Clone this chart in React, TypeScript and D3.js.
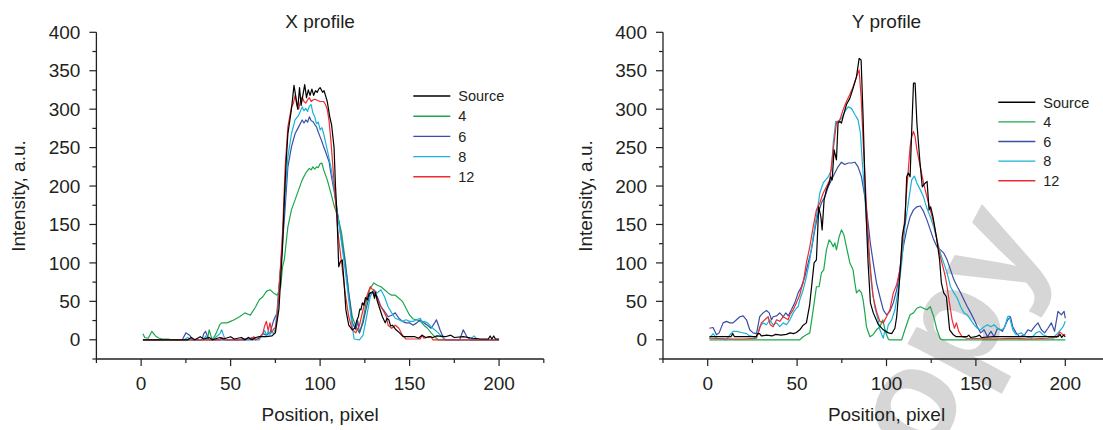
import React from "react";
import * as d3 from "d3";

type Pt = [number, number];

const seriesNames = ["Source", "4", "6", "8", "12"];
const seriesColors = ["#000000", "#1ba84c", "#3a4ea6", "#18b3d8", "#ee2b30"];

// X profile
const xSource: Pt[] = [[1,0],[26,0],[28,3],[30,0],[33,4],[35,1],[38,3],[40,0],[44,3],[46,1],[50,4],[52,1],[56,3],[58,0],[60,3],[62,0],[64,3],[66,4],[70,4],[73,5],[75,9],[77,40],[79,120],[80,182],[81,230],[82,268],[84,300],[85.4,331],[86.5,315],[87.5,300],[88.5,328],[89.4,305],[90.5,320],[91.4,332],[92.4,315],[93.4,325],[94.4,318],[95.4,326],[96.4,318],[97.4,324],[98.4,322],[99.2,326],[100,328],[101.4,322],[102.2,324],[103,318],[104,310],[105.4,290],[106.4,280],[107.8,250],[108.6,200],[109.4,165],[110.4,95],[111.4,102],[112.4,104],[113.4,74],[114.4,39],[116,19],[118,13],[119.4,15],[120.5,25],[121.4,30],[122.2,40],[122.8,39],[123.6,48],[124.4,45],[125.4,55],[126.4,52],[127.4,60],[128.4,61],[129.4,63],[130.4,54],[131,62],[132,50],[133.4,40],[134.8,30],[136.4,22],[137.4,28],[138.4,26],[139.4,18],[140.4,19],[142.4,13],[144.4,9],[146.4,4],[150,4],[153,4],[155,2],[157,6],[159,3],[161,4],[163,3],[165,5],[170,4],[173,6],[175,3],[180,4],[185,2],[190,1],[194,1],[195,5],[196,1],[197,5],[198,1],[200,1]];
const x4: Pt[] = [[1,8],[2,3],[4,2],[6,11],[8,5],[10,2],[12,1],[15,1],[17,0],[37,0],[38,13],[39,5],[40,0],[42,9],[44,20],[45,22],[48,22],[50,24],[52,26],[55,30],[58,35],[61,32],[64,43],[66,52],[68,56],[70,63],[72,65],[74,61],[76,58],[78,69],[79,95],[80,104],[82,147],[84,169],[86,182],[88,195],[90,208],[92,217],[94,223],[95,221],[96,225],[97,222],[98,225],[99,224],[100,229],[101,230],[102,221],[104,208],[106,191],[108,173],[110,160],[112,139],[114,104],[116,61],[118,30],[120,17],[122,9],[124,26],[126,52],[128,67],[130,74],[132,71],[134,69],[136,65],[138,61],[140,58],[142,58],[144,54],[146,50],[148,41],[150,32],[152,27],[154,26],[156,24],[158,19],[160,15],[162,9],[164,4],[166,0],[200,0]];
const x6: Pt[] = [[1,0],[23,0],[25,9],[27,6],[29,0],[34,0],[35,8],[36,11],[37,5],[38,0],[60,0],[62,3],[64,0],[66,2],[68,8],[70,6],[72,9],[74,25],[76,35],[78,95],[80,156],[82,225],[84,251],[86,268],[88,277],[90,286],[91,282],[92,286],[93,283],[94,290],[95,285],[96,284],[97,280],[98,277],[99,270],[100,264],[101,258],[102,251],[103,245],[104,238],[105,232],[106,217],[108,191],[110,160],[112,130],[114,100],[116,61],[118,22],[120,13],[121,25],[122,9],[124,22],[126,43],[128,61],[130,61],[132,56],[134,43],[136,37],[138,30],[140,32],[142,35],[144,28],[146,24],[148,22],[150,22],[152,19],[154,22],[156,26],[158,22],[160,19],[162,15],[164,22],[165,26],[167,13],[169,2],[170,0],[178,0],[180,13],[182,4],[184,0],[200,0]];
const x8: Pt[] = [[1,0],[24,0],[26,3],[28,0],[35,0],[36,5],[37,0],[40,0],[42,4],[44,8],[45,13],[46,6],[47,0],[55,0],[57,2],[60,0],[66,0],[68,8],[69,12],[70,6],[71,11],[72,7],[73,10],[74,8],[75,14],[76,40],[78,95],[80,173],[82,238],[84,268],[86,286],[88,292],[90,303],[91,298],[92,301],[93,297],[94,304],[95,306],[96,295],[97,290],[98,281],[99,283],[100,273],[101,276],[102,268],[104,247],[106,225],[108,195],[110,160],[112,126],[114,91],[116,52],[118,17],[119,1],[122,0],[124,6],[126,30],[128,56],[130,65],[132,61],[134,65],[136,56],[138,43],[140,35],[142,28],[144,26],[146,24],[148,26],[150,24],[152,24],[154,26],[156,28],[157,22],[158,24],[160,22],[162,17],[164,13],[166,9],[168,4],[170,0],[184,0],[186,5],[188,0],[200,0]];
const x12: Pt[] = [[1,0],[44,0],[45,3],[47,0],[58,0],[60,3],[61,0],[63,4],[64,0],[66,3],[68,8],[69,18],[70,24],[71,12],[72,22],[73,10],[74,14],[75,16],[76,30],[77,65],[78,100],[79,139],[80.5,225],[82,277],[84,303],[85,307],[86,318],[87,305],[88,300],[89,310],[90,316],[91,310],[92,308],[93,312],[94,315],[95,310],[96,312],[97,313],[98,312],[100,310],[102,310],[103,306],[104,300],[105,285],[106,260],[107,230],[108,199],[110,139],[112,100],[114,61],[116,30],[118,13],[120,9],[122,19],[124,39],[126,56],[128,69],[129,66],[130,65],[132,52],[134,43],[136,35],[137,30],[138,19],[140,15],[142,19],[144,15],[146,6],[148,1],[156,1],[157,6],[158,2],[162,4],[163,0],[200,0]];

// Y profile
const ySource: Pt[] = [[1,4],[13,4],[14,8],[15,4],[27,4],[28,8],[29,8],[30,5],[33,6],[36,5],[38,7],[41,6],[44,7],[46,9],[48,8],[49.6,9.5],[51.5,13],[53.4,19],[55.2,22],[57,45],[59.5,100],[60.8,104],[62.1,173],[63.3,160],[64,143],[65.1,182],[66.4,195],[67.9,204],[68.8,212],[69.6,208],[70.7,247],[72,234],[72.9,282],[73.9,284],[74.8,282],[75.7,290],[77.6,306],[79.5,314],[81.3,327],[83.2,342],[84.7,366],[85.8,364],[86.9,290],[88.2,186],[89.7,100],[91,48],[92.6,35],[95.4,20],[98.2,13],[101,9],[102.9,8],[104.7,15],[105.7,30],[106.6,56],[107.9,99],[108.8,134],[109.4,143],[110.3,152],[111.3,212],[112.2,217],[113.2,212],[114.1,273],[115.1,334],[116,334],[117,282],[118.6,234],[120,199],[121.3,203],[122.7,206],[123.8,169],[124.7,173],[126,160],[127.9,134],[129.7,104],[130.7,74],[132,61],[133.5,56],[134.4,35],[135.3,13],[137.2,7],[139,4],[145,4],[146,6],[147,3],[150,4],[152,6],[153,3],[160,4],[170,4],[180,4],[190,4],[196,4],[197,7],[198,3],[199,6],[200,4]];
const y4: Pt[] = [[1,0],[51.5,0],[53.4,4],[55.2,6.5],[57.1,9],[59,39],[60.8,69],[62.3,69],[63.6,87],[64.9,91],[66.4,117],[67.9,130],[69.2,126],[70.2,121],[71.1,126],[72,117],[73.5,134],[74.8,143],[76.1,137],[77.6,121],[79.5,100],[81.3,91],[82.3,74],[83.2,61],[84.7,65],[86,61],[86.9,52],[87.9,35],[88.8,17],[90.7,4],[92.5,6.5],[94.4,13],[96.3,17],[98,26],[99.3,11],[101,1],[101.5,0],[108.5,0],[110.3,13],[112.2,26],[113.2,32.5],[115.1,35],[117,41],[118.9,43],[120.7,41],[122.6,39],[124.5,43],[126.4,30],[128.2,13],[130.1,1],[131,0],[200,0]];
const y6: Pt[] = [[1,15],[3,16],[4.9,6.5],[6.4,9],[8.6,22],[10.5,24],[12.4,22],[14.2,22],[16.1,26],[18,30],[19.8,31],[21.7,26],[23.5,13],[25.4,9],[27.3,8],[29.1,30],[31,35],[32.9,38],[34.4,35],[35.7,26],[36.6,30],[38.5,31],[40.3,35],[42.2,30],[43.7,35],[45,31],[46.8,39],[48.7,48],[50.6,61],[52.4,69],[54.3,82],[56.2,100],[58,117],[59.9,143],[61.8,165],[63.6,178],[65.5,186],[67.4,199],[69.2,208],[71.1,217],[72.9,225],[74.8,231],[76.7,228],[78.6,230],[80.4,230],[82.3,231],[84.1,225],[86,212],[87.9,186],[89.7,152],[91,125],[92.6,100],[94.4,74],[96.3,56],[98.2,39],[100,32.5],[101.9,37],[103.8,48],[105.7,65],[107.5,91],[109.4,121],[111.3,143],[113.2,160],[115.1,169],[117,173],[118.9,174],[120.7,167],[122.6,156],[124.5,143],[126.4,130],[128.2,121],[130.1,117],[132,113],[133.9,104],[135.8,91],[137.7,78],[139.6,69],[141.5,61],[143.3,52],[145.2,43],[147.1,35],[149,26],[150.8,17],[152.7,9],[154.6,13],[156.5,4],[158.4,11],[160.2,4],[162.1,15],[164.9,11],[167.8,26],[169.3,30],[170.6,17],[172.5,9],[174.4,4],[177.2,6.5],[179.1,13],[180.9,11],[182.8,17],[184.7,22],[186.6,13],[188.4,9],[190.3,15],[192.2,22],[194,11],[195.9,37],[197.8,32.5],[199.3,37],[200,28]];
const y8: Pt[] = [[1,2],[3,8],[4.9,2],[10.5,0],[12.4,6.5],[14.2,11],[16,11],[18.9,9.5],[21.7,8],[23.5,5],[25.4,4],[27.3,2],[29.1,17],[31,22],[32.9,19.5],[34.7,26],[36.6,19.5],[38.5,22],[40.3,17],[42.2,22],[44,19.5],[46,26],[47.8,35],[49.6,41],[50.6,43],[51.5,52],[53.4,65],[55.2,82],[57.1,104],[59,134],[60.8,160],[62.7,191],[64.6,204],[66,208],[67.4,212],[69.2,221],[70.2,256],[71.6,284],[72.9,284],[74.8,288],[76.7,297],[78.6,303],[80.4,301],[82.3,293],[84.1,286],[85.4,269],[86.5,230],[87.9,186],[89.7,121],[91.5,74],[93.4,43],[95.3,26],[96.3,13],[98.2,2],[99.1,13],[100,9],[101,19.5],[102.9,26],[104.7,39],[106.6,65],[108.5,100],[110.3,147],[112.2,178],[114.1,208],[115.6,213],[117,204],[118.9,195],[120.7,186],[122.6,171],[124.5,160],[126.4,147],[128.2,130],[130.1,113],[132,100],[133.9,87],[135.8,69],[137.7,61],[139.6,54],[141.5,43],[143.3,35],[145.2,32.5],[147.1,26],[149,19.5],[150.8,15],[152.7,13],[154.6,17],[156.5,19.5],[158.4,17],[160.2,19.5],[162.1,15],[164,13],[165.9,15],[167.8,30],[168.7,31],[170.6,13],[172.5,6.5],[175.3,9],[178.1,4],[180.9,2],[183.7,9],[185.6,11],[187.5,6.5],[190.3,4],[193.1,2],[195.9,9],[198.8,17],[200,24]];
const y12: Pt[] = [[1,2],[15,1],[20,1],[27,2],[28,6.5],[30,22],[32.9,28],[33.8,30],[35,19.5],[36.6,17],[38.5,26],[40.3,24],[42.2,30],[43.7,28],[45,26],[46,32.5],[47.8,39],[49.6,48],[51.5,58.5],[52.4,67],[53.4,74],[55.2,100],[57.1,121],[59,147],[60.8,169],[62.7,178],[64.6,191],[66.4,199],[68.3,208],[70.2,247],[72,282],[73.9,286],[75.7,299],[77.6,310],[79.5,319],[81.3,329],[83.2,342],[84.7,351],[85.8,316],[86.9,260],[88.8,173],[90.7,100],[92.5,56],[94.4,37],[96.3,24],[98.2,22],[100,30],[101.9,39],[103.8,61],[105.7,72],[107.5,91],[109.4,139],[110.3,160],[111.3,195],[112.2,221],[113.2,251],[114.1,264],[115.1,271],[116,264],[117,247],[118.9,225],[120.7,204],[122.6,186],[124.5,169],[126.4,152],[128.2,130],[130.1,108],[131,100],[132,91],[132.9,82],[133.9,69],[135.2,48],[136.7,26],[138,15],[139.1,22],[140.4,11],[142.3,4],[145,2],[160,1],[170,2],[180,1],[190,2],[195,3],[197,10],[199,6],[200,7]];

const xTickValues = [0, 50, 100, 150, 200];
const xMinorValues = [-25, 25, 75, 125, 175, 225];
const yTickValues = [0, 50, 100, 150, 200, 250, 300, 350, 400];
const yMinorValues = [-25, 25, 75, 125, 175, 225, 275, 325, 375];

const FONT = "'Liberation Sans', Arial, Helvetica, sans-serif";
const INK = "#231f20";

type PanelProps = {
  x0: number;
  x1: number;
  title: string;
  series: Pt[][];
  legendX: number;
  legendY: number;
  legendStep: number;
};

function Panel({ x0, x1, title, series, legendX, legendY, legendStep }: PanelProps) {
  const x = d3.scaleLinear().domain([-25, 225]).range([x0, x1]);
  const y = d3.scaleLinear().domain([-25, 400]).range([359, 32.3]);
  const line = d3
    .line<Pt>()
    .x((d) => x(d[0]))
    .y((d) => y(d[1]));
  const bottom = y(-25);
  const cx = (x0 + x1) / 2;
  const order = [1, 2, 3, 4, 0];

  return (
    <g fontFamily={FONT} fill={INK}>
      {order.map((i) => (
        <path
          key={i}
          d={line(series[i]) || ""}
          fill="none"
          stroke={seriesColors[i]}
          strokeWidth={1.2}
          strokeLinejoin="round"
        />
      ))}
      {/* axes */}
      <line x1={x0} x2={x1} y1={bottom} y2={bottom} stroke={INK} strokeWidth={1.3} />
      <line x1={x0} x2={x0} y1={bottom} y2={y(400)} stroke={INK} strokeWidth={1.3} />
      {xTickValues.map((t) => (
        <g key={"xt" + t}>
          <line x1={x(t)} x2={x(t)} y1={bottom} y2={bottom + 7} stroke={INK} strokeWidth={1.2} />
          <text x={x(t)} y={390} textAnchor="middle" fontSize={19}>
            {t}
          </text>
        </g>
      ))}
      {xMinorValues.map((t) => (
        <line key={"xm" + t} x1={x(t)} x2={x(t)} y1={bottom} y2={bottom + 4} stroke={INK} strokeWidth={1.2} />
      ))}
      {yTickValues.map((t) => (
        <g key={"yt" + t}>
          <line x1={x0 - 7} x2={x0} y1={y(t)} y2={y(t)} stroke={INK} strokeWidth={1.2} />
          <text x={x0 - 16} y={y(t)} dy="0.35em" textAnchor="end" fontSize={19}>
            {t}
          </text>
        </g>
      ))}
      {yMinorValues.map((t) => (
        <line key={"ym" + t} x1={x0 - 4} x2={x0} y1={y(t)} y2={y(t)} stroke={INK} strokeWidth={1.2} />
      ))}
      <text x={cx} y={28} textAnchor="middle" fontSize={19}>
        {title}
      </text>
      <text x={cx} y={421} textAnchor="middle" fontSize={19}>
        Position, pixel
      </text>
      <text
        transform={`translate(${x0 - 71},196) rotate(-90)`}
        textAnchor="middle"
        fontSize={19}
      >
        Intensity, a.u.
      </text>
      {/* legend */}
      {seriesNames.map((name, i) => (
        <g key={name} transform={`translate(${legendX},${legendY + i * legendStep})`}>
          <line x1={0} x2={37} y1={0} y2={0} stroke={seriesColors[i]} strokeWidth={1.4} />
          <text x={45} y={0} dy="0.36em" fontSize={14.5}>
            {name}
          </text>
        </g>
      ))}
    </g>
  );
}

export default function App() {
  return (
    <svg
      width={1103}
      height={430}
      style={{ position: "absolute", left: 0, top: 0, background: "#fff" }}
    >
      <rect width={1103} height={430} fill="#fff" />
      {/* watermark, runs off the bottom edge as in the original */}
      <text
        transform="translate(891,538) rotate(-62)"
        fontFamily={FONT}
        fontWeight="bold"
        fontSize={145}
        fill="#d6d6d6"
      >
        copy
      </text>
      <Panel
        x0={96.4}
        x1={543.8}
        title="X profile"
        series={[xSource, x4, x6, x8, x12]}
        legendX={413.3}
        legendY={96}
        legendStep={20.2}
      />
      <Panel
        x0={663}
        x1={1110}
        title="Y profile"
        series={[ySource, y4, y6, y8, y12]}
        legendX={998.3}
        legendY={102.3}
        legendStep={19.6}
      />
    </svg>
  );
}
